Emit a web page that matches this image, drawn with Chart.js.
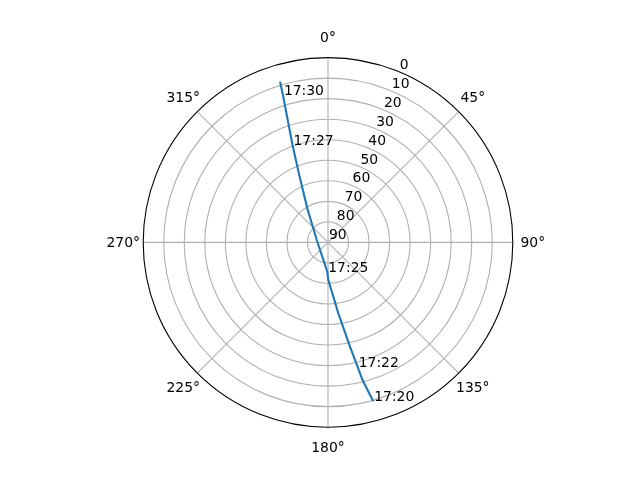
<!DOCTYPE html>
<html>
<head>
<meta charset="utf-8">
<script src="https://cdn.jsdelivr.net/npm/chart.js@4"></script>
<style>
  body { margin: 0; background: #fff; }
</style>
</head>
<body>
<canvas id="grafico" width="640" height="480"></canvas>
<script>
// satellite pass: azimuth (deg, clockwise from north) and elevation (deg)
const trackAz = [164.1, 165.9, 166.6, 168.1, 171.7, 179.5, 181.4, 282.0, 328.7, 336.9, 340.0, 343.0, 343.4];
const trackEl = [9.6, 20.9, 27.5, 38.1, 55.1, 71.7, 75.7, 84.4, 70.6, 54.3, 39.5, 14.9, 8.3];
const trackTime = ["17:20", "", "17:22", "", "", "", "17:25", "", "", "", "17:27", "17:30", ""];

const angleTicks = [0, 45, 90, 135, 180, 225, 270, 315];
const elevTicks = [0, 10, 20, 30, 40, 50, 60, 70, 80, 90];

const FONT = "13.9px 'DejaVu Sans'";

function toXY(az, el) {
  const r = 90 - el;
  const a = az * Math.PI / 180;
  return { x: r * Math.sin(a), y: r * Math.cos(a) };
}

const puntos = trackAz.map((az, i) => toXY(az, trackEl[i]));

const polarGrid = {
  id: "polarGrid",
  beforeDatasetsDraw(chart) {
    const ctx = chart.ctx;
    const sx = chart.scales.x, sy = chart.scales.y;
    const cx = sx.getPixelForValue(0), cy = sy.getPixelForValue(0);
    const k = sx.getPixelForValue(1) - cx;
    ctx.save();
    ctx.strokeStyle = "#b0b0b0";
    ctx.lineWidth = 1.1;
    elevTicks.forEach(v => {
      const r = (90 - v) * k;
      if (r <= 0 || v === 0) return;
      ctx.beginPath();
      ctx.arc(cx, cy, r, 0, Math.PI * 2);
      ctx.stroke();
    });
    angleTicks.forEach(a => {
      const t = a * Math.PI / 180;
      ctx.beginPath();
      ctx.moveTo(cx, cy);
      ctx.lineTo(cx + 90 * k * Math.sin(t), cy - 90 * k * Math.cos(t));
      ctx.stroke();
    });
    ctx.restore();
  },
  afterDatasetsDraw(chart) {
    const ctx = chart.ctx;
    const sx = chart.scales.x, sy = chart.scales.y;
    const cx = sx.getPixelForValue(0), cy = sy.getPixelForValue(0);
    const k = sx.getPixelForValue(1) - cx;
    ctx.save();
    // outer spine
    ctx.strokeStyle = "#000";
    ctx.lineWidth = 1.1;
    ctx.beginPath();
    ctx.arc(cx, cy, 90 * k, 0, Math.PI * 2);
    ctx.stroke();

    ctx.font = FONT;
    ctx.fillStyle = "#000";
    // angle labels
    ctx.textAlign = "center";
    ctx.textBaseline = "middle";
    angleTicks.forEach(a => {
      const t = a * Math.PI / 180;
      const rr = 90 * k + 20;
      ctx.fillText(a + "°", cx + rr * Math.sin(t), cy - rr * Math.cos(t) + 1);
    });
    // elevation labels at 22.5 deg
    ctx.textAlign = "left";
    ctx.textBaseline = "alphabetic";
    const t0 = 22.5 * Math.PI / 180;
    elevTicks.forEach(v => {
      const r = (90 - v) * k;
      ctx.fillText(String(v), cx + r * Math.sin(t0) + 1, cy - r * Math.cos(t0) - 3);
    });
    // time annotations
    trackTime.forEach((s, i) => {
      if (!s) return;
      const p = puntos[i];
      ctx.fillText(s, sx.getPixelForValue(p.x) + 1, sy.getPixelForValue(p.y));
    });
    ctx.restore();
  }
};

new Chart(document.getElementById("grafico").getContext("2d"), {
  type: "scatter",
  data: {
    datasets: [{
      data: puntos,
      showLine: true,
      borderColor: "#1f77b4",
      borderWidth: 2.1,
      pointRadius: 0,
      fill: false,
      tension: 0
    }]
  },
  options: {
    responsive: false,
    animation: false,
    maintainAspectRatio: false,
    layout: { padding: { left: 143.2, right: 127.2, top: 57.6, bottom: 52.8 } },
    plugins: { legend: { display: false }, tooltip: { enabled: false } },
    scales: {
      x: { type: "linear", min: -90, max: 90, display: false },
      y: { type: "linear", min: -90, max: 90, display: false }
    }
  },
  plugins: [polarGrid]
});
</script>
</body>
</html>
